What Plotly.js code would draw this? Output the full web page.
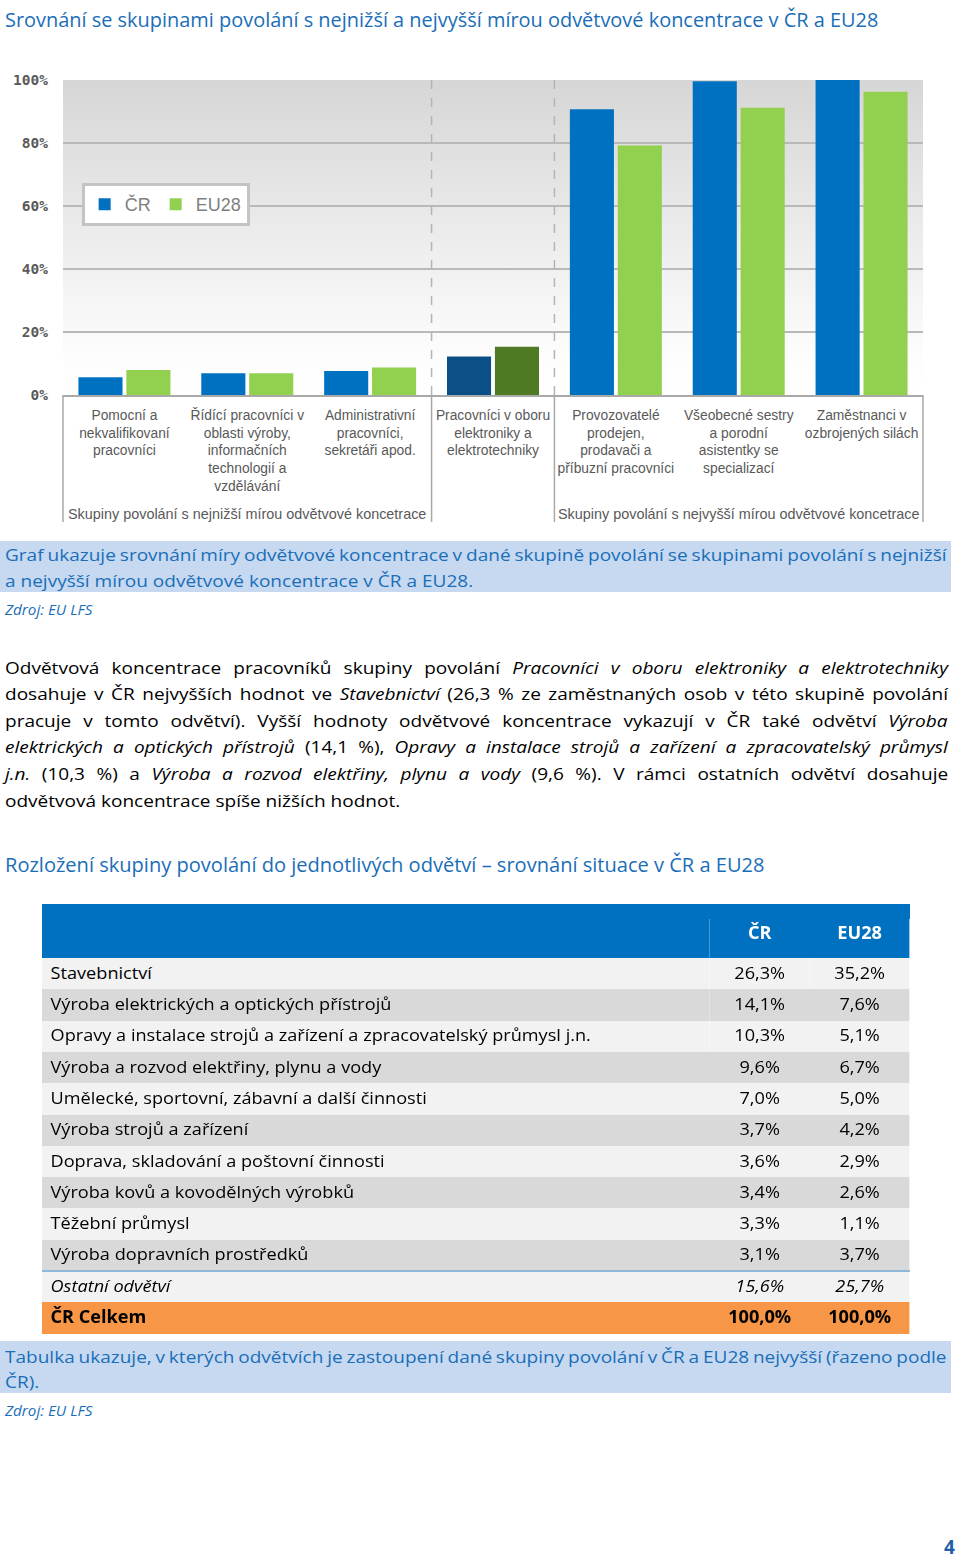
<!DOCTYPE html>
<html><head><meta charset="utf-8">
<script src="https://cdn.plot.ly/plotly-3.0.1.min.js"></script>
<style>
html,body{margin:0;padding:0;background:#fff;}
body{width:960px;height:1559px;position:relative;overflow:hidden;}
.ln{position:absolute;white-space:nowrap;transform-origin:0 50%;line-height:1;}
.box{position:absolute;background:#c6d9f1;}
</style></head><body>
<div id="chart" style="position:absolute;left:0;top:0;width:960px;height:540px;"></div>
<div class="box" style="left:0;top:541px;width:951px;height:51px;"></div>
<div class="box" style="left:0;top:1341px;width:951px;height:52px;"></div>
<div style="position:absolute;left:42px;top:904px;width:868px;height:15px;background:#0070c0;"></div>
<div id="tablewrap" style="position:absolute;left:42px;top:918px;height:424px;transform-origin:0 0;"></div>
<div style="position:absolute;left:42px;top:1270px;width:868px;height:2px;background:#8fb7d8;z-index:5;"></div>
<script>
// ---------- data ----------
const categories = [
  "Pomocní a<br>nekvalifikovaní<br>pracovníci",
  "Řídící pracovníci v<br>oblasti výroby,<br>informačních<br>technologií a<br>vzdělávání",
  "Administrativní<br>pracovníci,<br>sekretáři apod.",
  "Pracovníci v oboru<br>elektroniky a<br>elektrotechniky",
  "Provozovatelé<br>prodejen,<br>prodavači a<br>příbuzní pracovníci",
  "Všeobecné sestry<br>a porodní<br>asistentky se<br>specializací",
  "Zaměstnanci v<br>ozbrojených silách"
];
const seriesNames = ["ČR", "EU28"];
const crValues = [5.6, 6.9, 7.6, 12.2, 90.7, 99.6, 100.0];
const euValues = [7.9, 6.9, 8.7, 15.3, 79.2, 91.2, 96.3];
const highlightIndex = 3;
const groupLabels = [
  "Skupiny povolání s nejnižší mírou odvětvové koncetrace",
  "Skupiny povolání s nejvyšší mírou odvětvové koncetrace"
];
const groupSpans = [[0, 2], [4, 6]];
const yTicks = [0, 20, 40, 60, 80, 100];

const sectors = [
  "Stavebnictví",
  "Výroba elektrických a optických přístrojů",
  "Opravy a instalace strojů a zařízení a zpracovatelský průmysl j.n.",
  "Výroba a rozvod elektřiny, plynu a vody",
  "Umělecké, sportovní, zábavní a další činnosti",
  "Výroba strojů a zařízení",
  "Doprava, skladování a poštovní činnosti",
  "Výroba kovů a kovodělných výrobků",
  "Těžební průmysl",
  "Výroba dopravních prostředků",
  "Ostatní odvětví",
  "ČR Celkem"
];
const sectorCR = [26.3, 14.1, 10.3, 9.6, 7.0, 3.7, 3.6, 3.4, 3.3, 3.1, 15.6, 100.0];
const sectorEU = [35.2, 7.6, 5.1, 6.7, 5.0, 4.2, 2.9, 2.6, 1.1, 3.7, 25.7, 100.0];
const tableHeader = ["", "ČR", "EU28"];

// ---------- texts ----------
const FONT = '"Open Sans", "Noto Sans", sans-serif';
const BLUE = '#1a6eb8';
const title1 = "Srovnání se skupinami povolání s nejnižší a nejvyšší mírou odvětvové koncentrace v ČR a EU28";
const title2 = "Rozložení skupiny povolání do jednotlivých odvětví – srovnání situace v ČR a EU28";
const caption1 = ["Graf ukazuje srovnání míry odvětvové koncentrace v dané skupině povolání se skupinami povolání s nejnižší",
                  "a nejvyšší mírou odvětvové koncentrace v ČR a EU28."];
const caption2 = ["Tabulka ukazuje, v kterých odvětvích je zastoupení dané skupiny povolání v ČR a EU28 nejvyšší (řazeno podle",
                  "ČR)."];
const source = "Zdroj: EU LFS";
const body = [
  "Odvětvová koncentrace pracovníků skupiny povolání <i>Pracovníci v oboru elektroniky a elektrotechniky</i>",
  "dosahuje v ČR nejvyšších hodnot ve <i>Stavebnictví</i> (26,3 % ze zaměstnaných osob v této skupině povolání",
  "pracuje v tomto odvětví). Vyšší hodnoty odvětvové koncentrace vykazují v ČR také odvětví <i>Výroba</i>",
  "<i>elektrických a optických přístrojů</i> (14,1 %), <i>Opravy a instalace strojů a zařízení a zpracovatelský průmysl</i>",
  "<i>j.n.</i> (10,3 %) a <i>Výroba a rozvod elektřiny, plynu a vody</i> (9,6 %). V rámci ostatních odvětví dosahuje",
  "odvětvová koncentrace spíše nižších hodnot."
];

function addLine(html, x, yc, o) {
  const d = document.createElement('div');
  d.className = 'ln';
  d.innerHTML = html;
  d.style.fontFamily = FONT;
  d.style.fontSize = o.size + 'px';
  d.style.fontStyle = o.italic ? 'italic' : 'normal';
  d.style.fontWeight = o.weight || 400;
  d.style.color = o.color || '#000';
  d.style.left = x + 'px';
  document.body.appendChild(d);
  const h = d.offsetHeight;
  d.style.top = (yc - h / 2) + 'px';
  const w = d.offsetWidth;
  let s = o.fit ? o.fit / w : (o.scale || 1);
  if (o.justify) {
    const n = (d.textContent.match(/ /g) || []).length;
    d.style.wordSpacing = ((o.justify / s - w) / n) + 'px';
  }
  d.style.transform = 'scaleX(' + s + ')';
  return w;
}
function measureW(html, size) {
  const d = document.createElement('div');
  d.className = 'ln'; d.style.fontFamily = FONT; d.style.fontSize = size + 'px';
  d.style.visibility = 'hidden'; d.innerHTML = html;
  document.body.appendChild(d); const w = d.offsetWidth; d.remove(); return w;
}

function drawTexts() {
  const BS = 17;
  const S = 395 / measureW(body[5], BS);
  addLine(title1, 5, 20, {size: 20, fit: 873, color: BLUE});
  addLine(caption1[0], 5, 554, {size: BS, scale: S, justify: 942, color: BLUE});
  addLine(caption1[1], 5, 580, {size: BS, scale: S, color: BLUE});
  addLine(source, 5, 610, {size: 14.5, italic: true, fit: 87, color: BLUE});
  body.forEach((l, i) => addLine(l, 5, 667 + i * 26.6, {size: BS, scale: S, justify: i < body.length - 1 ? 943 : 0, color: '#000'}));
  addLine(title2, 5, 865, {size: 20, fit: 759, color: BLUE});
  addLine(caption2[0], 5, 1356, {size: BS, scale: S, justify: 942, color: BLUE});
  addLine(caption2[1], 5, 1381, {size: BS, scale: S, color: BLUE});
  addLine(source, 5, 1411, {size: 14.5, italic: true, fit: 87, color: BLUE});
  addLine("4", 944, 1547, {size: 19, weight: 700, color: '#1f5fa8'});
  return S;
}

function drawChart() {
  const crColors = categories.map((_, i) => i === highlightIndex ? '#0b4f87' : '#0070c0');
  const euColors = categories.map((_, i) => i === highlightIndex ? '#4e7a23' : '#92d050');
  const bgSvg = "<svg xmlns='http://www.w3.org/2000/svg' width='10' height='100' preserveAspectRatio='none'><defs><linearGradient id='g' x1='0' y1='0' x2='0' y2='1'><stop offset='0' stop-color='#d6d6d6'/><stop offset='0.88' stop-color='#fdfdfd'/><stop offset='1' stop-color='#ffffff'/></linearGradient></defs><rect width='10' height='100' fill='url(#g)'/></svg>";
  const bounds = [groupSpans[0][1] + 0.5, groupSpans[1][0] - 0.5];
  const sepColor = '#a8a8a8';
  const shapes = [];
  bounds.forEach(b => {
    shapes.push({type: 'line', xref: 'x', yref: 'paper', x0: b, x1: b, y0: 0, y1: 1, line: {color: '#b4b4b4', width: 1.5, dash: 'dash'}});
    shapes.push({type: 'line', xref: 'x', yref: 'paper', x0: b, x1: b, y0: 0, y1: -0.403, line: {color: sepColor, width: 1.5}});
  });
  [0, 1].forEach(p => shapes.push({type: 'line', xref: 'paper', yref: 'paper', x0: p, x1: p, y0: 0, y1: -0.403, line: {color: sepColor, width: 1.5}}));

  const data = [
    {type: 'bar', name: seriesNames[0], x: categories, y: crValues, marker: {color: crColors}, hoverinfo: 'skip'},
    {type: 'bar', name: seriesNames[1], x: categories, y: euValues, marker: {color: euColors}, hoverinfo: 'skip'}
  ];
  const layout = {
    width: 960, height: 540,
    margin: {l: 63, r: 37, t: 80, b: 145},
    paper_bgcolor: 'rgba(0,0,0,0)', plot_bgcolor: 'rgba(0,0,0,0)',
    barmode: 'group', bargap: 0.22, bargroupgap: 0.08,
    showlegend: true,
    legend: {orientation: 'h', x: 0.0217, y: 0.673, xanchor: 'left', yanchor: 'top',
             bgcolor: '#ffffff', bordercolor: '#c4c4c4', borderwidth: 3,
             font: {family: 'Liberation Sans', size: 18, color: '#7f7f7f'}},
    xaxis: {type: 'category', range: [-0.5, 6.5], showline: true, linecolor: '#a9a9a9', linewidth: 2,
            ticks: '', showgrid: false, ticklabelstandoff: 6,
            tickfont: {family: 'Liberation Sans', size: 13.8, color: '#595959'}},
    yaxis: {range: [0, 100], tickvals: yTicks, ticktext: yTicks.map(v => v + '%'),
            showgrid: true, gridcolor: '#b9b9b9', gridwidth: 2, zeroline: false, showline: false,
            ticks: '', ticklabelstandoff: 14,
            tickfont: {family: 'DejaVu Sans Mono', size: 14.5, color: '#5a5a5a', weight: 'bold'}},
    images: [{source: 'data:image/svg+xml;charset=utf-8,' + encodeURIComponent(bgSvg),
              xref: 'paper', yref: 'paper', x: 0, y: 1, sizex: 1, sizey: 1, sizing: 'stretch',
              xanchor: 'left', yanchor: 'top', layer: 'below'}],
    shapes: shapes,
    annotations: groupLabels.map((t, i) => ({
      xref: 'x', yref: 'paper', x: (groupSpans[i][0] + groupSpans[i][1]) / 2, y: -0.378,
      text: t, showarrow: false, yanchor: 'middle',
      font: {family: 'Liberation Sans', size: 14.4, color: '#595959'}
    }))
  };
  return Plotly.newPlot('chart', data, layout, {staticPlot: true, displayModeBar: false});
}

function fmt(v) { return v.toFixed(1).replace('.', ',') + '%'; }

function drawTable() {
  const TS = 17;
  const St = 540 / measureW(sectors[2], TS);
  const W = 868 / St;
  const wrap = document.getElementById('tablewrap');
  wrap.style.width = W + 'px';
  wrap.style.transform = 'scaleX(' + St + ')';
  const last = sectors.length - 1, other = sectors.length - 2;
  const rowFill = sectors.map((_, i) => i === last ? '#f79646' : (i % 2 === 0 ? '#f2f2f2' : '#d9d9d9'));
  const rowWeight = sectors.map((_, i) => i === last ? 'bold' : 'normal');
  const rowStyle = sectors.map((_, i) => i === other ? 'italic' : 'normal');
  const data = [{
    type: 'table',
    columnwidth: [668, 100, 100],
    header: {values: tableHeader, align: ['left', 'center', 'center'],
             fill: {color: '#0070c0'}, line: {width: 0, color: '#0070c0'},
             font: {family: FONT, size: TS, color: '#ffffff', weight: 'bold'}, height: 40},
    cells: {values: [sectors, sectorCR.map(fmt), sectorEU.map(fmt)],
            align: ['left', 'center', 'center'],
            fill: {color: [rowFill, rowFill, rowFill]}, line: {width: 0, color: '#ffffff'},
            font: {family: FONT, size: TS, color: '#000000',
                   weight: [rowWeight, rowWeight, rowWeight], style: [rowStyle, rowStyle, rowStyle]},
            height: 31.3},
    domain: {x: [0, 1], y: [0, 1]}
  }];
  return Plotly.newPlot('tablewrap', data, {width: W, height: 424, margin: {l: 0, r: 0, t: 0, b: 0},
    paper_bgcolor: 'rgba(0,0,0,0)'}, {staticPlot: true, displayModeBar: false});
}

drawChart();
drawTexts();
drawTable();
</script>
</body></html>
